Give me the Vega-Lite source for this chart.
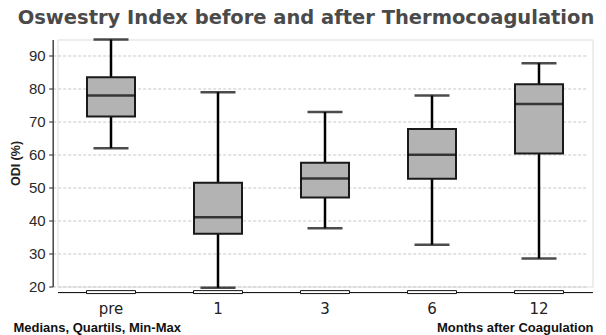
{
  "$schema": "https://vega.github.io/schema/vega-lite/v6.json",
  "width": 535,
  "height": 247,
  "autosize": {"type": "none"},
  "padding": {"left": 57.5, "top": 39.5, "right": 13.5, "bottom": 48.3},
  "background": "white",
  "config": {
    "axisY": {
      "offset": 4.8, "tickCount": 15,
      "labelExpr": "datum.value % 10 == 0 ? datum.label : ''", "labelOverlap": false,
      "grid": true, "gridDash": [3, 2], "gridColor": "#c8c8c8", "gridWidth": 1,
      "domainColor": "#444", "domainWidth": 1.5, "tickColor": "#444", "tickSize": 4, "tickWidth": 1.2,
      "labelFont": "Liberation Sans", "labelFontSize": 15, "labelColor": "#2a2a2a", "labelPadding": 3.5,
      "titleFont": "Liberation Sans", "titleFontWeight": "bold", "titleFontSize": 12.5,
      "titleColor": "#222", "titleX": -37, "titleY": 123.5, "titleAlign": "center", "titleBaseline": "middle", "titleAngle": -90
    }
  },
  "title": {
    "text": "Oswestry Index before and after Thermocoagulation",
    "font": "DejaVu Sans",
    "fontWeight": "bold",
    "fontSize": 19.5,
    "color": "#4a4a4a",
    "anchor": "middle",
    "dx": -19,
    "offset": 10
  },
  "data": {
    "values": [
      {"group": "pre", "min": 62, "q1": 71.6, "median": 78, "q3": 83.5, "max": 95},
      {"group": "1", "min": 19.6, "q1": 36, "median": 41, "q3": 51.5, "max": 79},
      {"group": "3", "min": 37.7, "q1": 47, "median": 52.8, "q3": 57.6, "max": 73},
      {"group": "6", "min": 32.7, "q1": 52.7, "median": 60, "q3": 67.8, "max": 78},
      {"group": "12", "min": 28.5, "q1": 60.4, "median": 75.4, "q3": 81.4, "max": 87.8}
    ]
  },
  "resolve": {"axis": {"x": "independent"}},
  "layer": [
    {
      "mark": {"type": "rule", "color": "black", "strokeWidth": 2.5},
      "encoding": {
        "x": {
          "field": "group", "type": "nominal", "sort": ["pre", "1", "3", "6", "12"],
          "scale": {"paddingInner": 0, "paddingOuter": 0},
          "axis": {
            "orient": "bottom", "offset": 5.6, "ticks": false, "domainColor": "black", "domainWidth": 1,
            "labelAngle": 0, "labelFont": "DejaVu Sans", "labelFontSize": 15, "labelColor": "#222", "labelPadding": 9,
            "title": "Months after Coagulation", "titleFont": "Liberation Sans", "titleFontWeight": "bold",
            "titleFontSize": 13, "titleColor": "#111", "titleX": 535.5, "titleAlign": "right", "titleY": 39,
            "titleBaseline": "alphabetic", "titleAnchor": null
          }
        },
        "y": {
          "field": "min", "type": "quantitative",
          "scale": {"domain": [20, 95], "nice": false, "zero": false},
          "axis": {"title": "ODI (%)", "values": [20, 25, 30, 35, 40, 45, 50, 55, 60, 65, 70, 75, 80, 85, 90, 95]}
        },
        "y2": {"field": "max"}
      }
    },
    {
      "mark": {"type": "tick", "color": "black", "size": 35, "thickness": 2.5, "orient": "horizontal"},
      "encoding": {
        "x": {"field": "group", "type": "nominal", "sort": ["pre", "1", "3", "6", "12"], "axis": null},
        "y": {"field": "min", "type": "quantitative", "axis": {"title": "ODI (%)", "values": [20, 25, 30, 35, 40, 45, 50, 55, 60, 65, 70, 75, 80, 85, 90, 95]}}
      }
    },
    {
      "mark": {"type": "tick", "color": "black", "size": 35, "thickness": 2.5, "orient": "horizontal"},
      "encoding": {
        "x": {"field": "group", "type": "nominal", "sort": ["pre", "1", "3", "6", "12"], "axis": null},
        "y": {"field": "max", "type": "quantitative", "axis": {"title": "ODI (%)", "values": [20, 25, 30, 35, 40, 45, 50, 55, 60, 65, 70, 75, 80, 85, 90, 95]}}
      }
    },
    {
      "mark": {"type": "bar", "fill": "#b3b3b3", "stroke": "#1a1a1a", "strokeWidth": 2, "size": 48},
      "encoding": {
        "x": {"field": "group", "type": "nominal", "sort": ["pre", "1", "3", "6", "12"], "axis": null},
        "y": {"field": "q1", "type": "quantitative", "axis": {"title": "ODI (%)", "values": [20, 25, 30, 35, 40, 45, 50, 55, 60, 65, 70, 75, 80, 85, 90, 95]}},
        "y2": {"field": "q3"}
      }
    },
    {
      "mark": {"type": "tick", "color": "black", "size": 48, "thickness": 2.5, "orient": "horizontal"},
      "encoding": {
        "x": {"field": "group", "type": "nominal", "sort": ["pre", "1", "3", "6", "12"], "axis": null},
        "y": {"field": "median", "type": "quantitative", "axis": {"title": "ODI (%)", "values": [20, 25, 30, 35, 40, 45, 50, 55, 60, 65, 70, 75, 80, 85, 90, 95]}}
      }
    },
    {
      "mark": {"type": "bar", "fill": "white", "stroke": "#111", "strokeWidth": 1, "size": 49},
      "encoding": {
        "x": {
          "field": "group", "type": "nominal", "sort": ["pre", "1", "3", "6", "12"],
          "axis": {
            "orient": "bottom", "offset": 5.6, "ticks": false, "domain": false, "labels": false,
            "title": "Medians, Quartils, Min-Max", "titleFont": "Liberation Sans", "titleFontWeight": "bold",
            "titleFontSize": 13, "titleColor": "#111", "titleX": -44.5, "titleAlign": "left", "titleY": 39,
            "titleBaseline": "alphabetic", "titleAnchor": null
          }
        },
        "y": {"datum": 17.85, "type": "quantitative", "axis": {"title": "ODI (%)", "values": [20, 25, 30, 35, 40, 45, 50, 55, 60, 65, 70, 75, 80, 85, 90, 95]}},
        "y2": {"datum": 18.75}
      }
    }
  ]
}
